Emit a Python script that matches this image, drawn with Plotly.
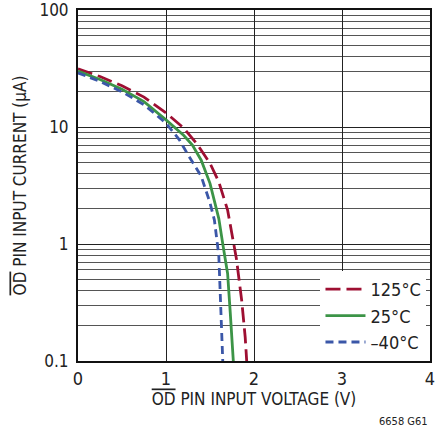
import plotly.graph_objects as go

# OD pin input voltage (V) / current (uA)
v_125 = [0, 0.25, 0.5, 0.75, 1.0, 1.2, 1.35, 1.5, 1.6, 1.7, 1.8, 1.86, 1.9, 1.917]
i_125 = [31.5, 27, 22.5, 18, 13.2, 9.8, 7.2, 4.9, 3.4, 1.95, 0.75, 0.33, 0.16, 0.1]

v_25 = [0, 0.25, 0.5, 0.75, 1.0, 1.2, 1.3, 1.4, 1.5, 1.6, 1.65, 1.7, 1.73, 1.75, 1.765]
i_25 = [30, 25.5, 21, 16.5, 11.5, 8.5, 7.0, 5.2, 3.3, 1.65, 0.95, 0.56, 0.26, 0.16, 0.1]

v_m40 = [0, 0.25, 0.5, 0.75, 1.0, 1.15, 1.25, 1.4, 1.5, 1.55, 1.6, 1.62, 1.635, 1.645]
i_m40 = [29, 24.5, 20, 15.5, 10.8, 7.8, 5.8, 3.8, 2.25, 1.6, 0.8, 0.35, 0.2, 0.1]

y_ticks = [0.1, 1, 10, 100]
y_labels = ['0.1', '1', '10', '100']
y_minor = [m * d for d in (0.1, 1, 10) for m in range(2, 10)]

FONT = 'DejaVu Sans Condensed, Liberation Sans Narrow, Arial Narrow, Roboto, sans-serif'

fig = go.Figure()

series = [
    ('125°C', v_125, i_125, '#9E0F32', '15px,6px'),
    ('25°C', v_25, i_25, '#3C9447', 'solid'),
    ('–40°C', v_m40, i_m40, '#3B57A8', '8px,5px'),
]
for name, xs, ys, color, dash in series:
    fig.add_trace(go.Scatter(
        x=xs, y=ys, name=name, mode='lines',
        line=dict(color=color, width=2.8, dash=dash),
    ))

fig.update_xaxes(
    range=[0, 4], dtick=1, tickfont=dict(size=18),
    showgrid=True, gridcolor='#222', gridwidth=1,
    showline=True, linecolor='#111', linewidth=2, mirror=True,
    ticks='', zeroline=False, automargin=False, ticklabeloverflow='allow',
    title=dict(text='<span style="text-decoration:overline">OD</span> PIN INPUT VOLTAGE (V)',
               font=dict(size=17), standoff=6),
)
fig.update_yaxes(
    type='log', range=[-1, 2],
    tickvals=y_ticks, ticktext=y_labels, tickfont=dict(size=17),
    ticklabelstandoff=4,
    showgrid=True, gridcolor='#222', gridwidth=1,
    minor=dict(tickvals=y_minor, showgrid=True, gridcolor='#555', gridwidth=1, ticks=''),
    showline=True, linecolor='#111', linewidth=2, mirror=True,
    ticks='', zeroline=False, automargin=False, ticklabeloverflow='allow',
    title=dict(text='<span style="text-decoration:overline">OD</span> PIN INPUT CURRENT (µA)',
               font=dict(size=17), standoff=8),
)

fig.add_annotation(
    text='6658 G61', xref='paper', yref='paper', x=1, y=-0.173,
    xanchor='right', yanchor='middle', showarrow=False,
    font=dict(size=11, color='#222'),
)

fig.update_layout(
    width=442, height=432,
    margin=dict(l=78, r=12, t=10, b=71, autoexpand=False),
    paper_bgcolor='white', plot_bgcolor='white',
    font=dict(family=FONT, color='#222', size=17),
    legend=dict(
        x=0.99, y=0.0, xanchor='right', yanchor='bottom',
        bgcolor='white', borderwidth=0, font=dict(size=18),
        tracegroupgap=0, itemwidth=40,
    ),
    template='plotly_white',
)

# page body has a default 8px margin; drop it so the figure fills the window
fig.write_html("out.html", config={'displayModeBar': False},
               post_script="document.body.style.margin='0';")
